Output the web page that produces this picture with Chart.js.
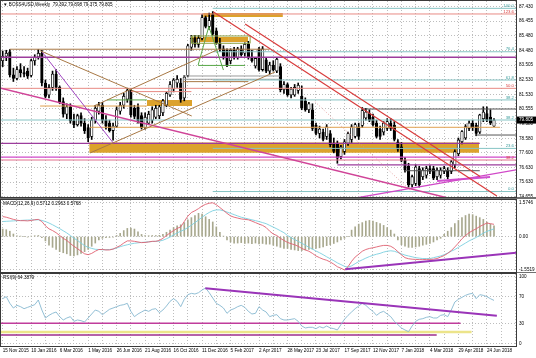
<!DOCTYPE html>
<html>
<head>
<meta charset="utf-8">
<script src="https://cdn.jsdelivr.net/npm/chart.js@4.4.0/dist/chart.umd.min.js"></script>
<style>
  html, body { margin: 0; padding: 0; background: #fff; }
  #wrap { position: relative; width: 536px; height: 358px; overflow: hidden; }
  .pane { position: absolute; left: 0; width: 536px; }
</style>
</head>
<body>
<div id="wrap">
  <div class="pane" style="top:0;height:199px"><canvas id="main"></canvas></div>
  <div class="pane" style="top:199px;height:74px"><canvas id="macd"></canvas></div>
  <div class="pane" style="top:273px;height:85px"><canvas id="rsi"></canvas></div>
</div>
<script>
// ---- weekly candles, one per week starting 15 Nov 2015 ----
const opens = [83.8,84.1,84.4,82.85,82.6,83.2,83.0,83.1,82.8,83.8,
  84.05,84.3,82.3,81.5,82.0,82.9,82.0,81.05,80.2,80.7,
  79.75,79.5,80.1,79.6,79.3,78.7,79.8,80.4,80.8,79.8,
  79.6,79.1,79.4,80.4,80.8,81.2,81.8,80.6,80.7,80.1,
  79.3,79.6,79.8,80.0,80.1,80.3,80.8,81.5,81.9,82.3,
  82.3,81.3,82.8,84.7,85.3,84.9,85.3,86.7,86.1,86.9,
  85.8,85.0,84.6,84.5,83.8,84.5,84.0,84.6,84.3,84.9,
  84.0,83.45,84.6,83.2,83.85,83.1,83.5,83.1,83.4,81.85,
  82.2,81.5,81.5,81.8,81.4,81.1,80.5,80.5,79.45,78.9,
  79.0,78.7,78.9,78.2,78.2,77.35,77.7,78.25,78.5,78.7,
  79.35,79.45,79.95,80.25,80.0,79.6,79.2,79.0,79.25,79.6,
  79.45,78.35,78.0,77.1,76.7,75.45,75.55,76.55,76.0,76.1,
  76.55,76.55,76.0,76.1,76.35,76.45,76.35,76.8,77.55,78.35,
  78.6,79.25,79.6,79.45,79.0,79.9,80.25,80.0,79.392];
const highs = [84.45,84.5,84.55,83.3,83.4,83.6,83.4,83.3,83.9,84.2,
  84.55,84.5,82.5,82.2,83.1,83.2,82.1,81.3,80.9,80.9,
  80.2,80.2,80.3,79.9,79.5,80.0,80.8,81.0,81.0,80.1,
  79.8,79.6,80.7,81.0,81.6,81.95,81.9,80.8,80.9,80.3,
  80.3,80.4,80.7,80.8,80.8,81.2,81.7,82.4,82.6,82.8,
  82.6,82.8,84.9,85.5,85.5,85.5,86.9,86.8,87.0,87.1,
  86.0,85.3,84.8,84.6,84.6,84.7,84.7,84.8,85.0,85.1,
  84.5,84.0,84.7,84.75,84.0,83.7,83.8,84.0,83.6,82.4,
  82.3,82.0,82.2,82.3,82.1,81.3,81.0,80.9,79.6,79.4,
  79.2,79.5,79.1,78.6,78.4,78.1,78.5,79.0,79.5,79.6,
  79.6,80.65,80.6,80.5,80.2,79.8,79.4,79.7,79.9,79.9,
  79.7,78.5,78.3,77.3,76.9,76.1,76.8,76.7,76.6,76.7,
  76.75,76.7,76.6,76.6,76.7,76.6,77.1,77.8,78.6,79.1,
  79.5,79.75,79.8,79.6,80.2,80.7,80.7,80.5,79.898];
const lows = [83.4,83.8,82.7,82.4,82.5,82.7,82.7,82.6,82.7,83.5,
  83.9,82.1,81.3,81.3,81.8,81.8,80.9,80.0,79.9,79.6,
  79.3,79.4,79.4,78.9,78.35,78.5,79.6,80.2,79.6,79.2,
  79.0,78.45,79.3,80.2,80.6,81.0,80.0,79.9,79.6,79.2,
  79.2,79.5,79.6,79.9,79.9,80.1,80.7,81.4,81.7,82.0,
  81.0,81.1,82.7,84.5,84.7,84.7,85.2,86.0,85.9,85.5,
  84.9,84.4,83.9,83.4,83.6,83.9,83.9,84.1,84.1,83.9,
  83.7,83.3,83.1,83.1,83.0,82.9,83.1,83.0,81.7,81.6,
  81.4,81.3,81.4,81.6,80.5,80.4,80.3,79.1,78.8,78.6,
  78.4,78.5,78.0,77.6,76.9,77.2,77.5,78.1,78.3,78.6,
  78.5,79.3,79.8,79.7,79.4,78.6,78.5,78.8,79.1,79.1,
  78.4,77.7,77.0,76.3,75.3,75.3,75.4,75.3,75.8,75.9,
  76.2,75.8,75.8,75.9,76.2,75.85,76.2,76.6,77.4,78.2,
  78.5,79.1,79.1,78.75,78.9,79.7,79.7,79.5,79.375];
const closes = [84.1,84.3,82.85,82.6,83.2,83.0,82.9,82.75,83.8,84.05,
  84.3,82.3,81.4,82.0,82.9,82.0,81.05,80.2,80.7,79.75,
  79.5,80.1,79.6,79.1,78.6,79.8,80.6,80.8,79.8,79.4,
  79.1,79.4,80.5,80.8,81.4,81.8,80.15,80.05,79.7,79.3,
  80.0,80.2,80.5,80.6,80.7,81.1,81.6,82.2,82.5,82.55,
  81.2,82.7,84.8,85.3,84.9,85.3,86.7,86.1,86.5,85.6,
  85.0,84.6,84.1,83.5,84.5,84.0,84.6,84.2,84.9,84.0,
  83.8,83.95,83.2,84.6,83.1,83.5,83.2,83.9,81.85,82.2,
  81.5,81.9,82.0,82.15,80.6,80.5,80.9,79.25,78.9,79.2,
  78.5,79.35,78.15,77.7,77.25,78.0,78.35,78.9,79.35,79.5,
  78.7,80.45,80.35,79.8,79.5,78.7,78.7,79.6,79.7,79.25,
  78.5,77.85,77.1,76.45,75.45,76.0,76.65,75.45,76.45,76.55,
  76.35,75.9,76.45,76.45,76.55,76.0,77.0,77.68,78.47,79.03,
  79.36,79.6,79.3,78.9,80.15,80.35,79.8,79.6,79.805];

// ---- MACD(12,26,9) ----
const macdLine = [0.93,0.9,0.85,0.8,0.76,0.74,0.74,0.73,0.75,0.78,
  0.8,0.7,0.5,0.36,0.28,0.18,0.05,-0.08,-0.18,-0.32,
  -0.45,-0.56,-0.68,-0.8,-0.84,-0.78,-0.68,-0.6,-0.6,-0.62,
  -0.62,-0.58,-0.5,-0.42,-0.3,-0.2,-0.2,-0.22,-0.25,-0.28,
  -0.27,-0.25,-0.22,-0.22,-0.18,-0.08,0.05,0.17,0.28,0.38,
  0.45,0.7,0.95,1.12,1.2,1.3,1.42,1.5,1.55,1.57,
  1.48,1.35,1.22,1.08,0.96,0.9,0.86,0.82,0.8,0.78,
  0.72,0.65,0.58,0.52,0.42,0.25,0.12,0.05,-0.08,-0.18,
  -0.27,-0.33,-0.38,-0.45,-0.55,-0.62,-0.68,-0.78,-0.9,-0.98,
  -1.05,-1.1,-1.18,-1.28,-1.4,-1.47,-1.55,-1.4,-1.15,-0.95,
  -0.82,-0.68,-0.6,-0.55,-0.52,-0.48,-0.44,-0.41,-0.41,-0.45,
  -0.55,-0.7,-0.85,-0.98,-1.03,-1.05,-1.06,-1.07,-1.07,-1.06,
  -1.06,-1.05,-1.02,-0.95,-0.88,-0.78,-0.65,-0.48,-0.3,-0.1,
  0.05,0.18,0.28,0.36,0.47,0.55,0.63,0.6,0.57];
const macdSignal = [0.7,0.71,0.72,0.73,0.74,0.75,0.76,0.77,0.77,0.78,
  0.78,0.75,0.7,0.63,0.55,0.46,0.37,0.27,0.17,0.05,
  -0.07,-0.18,-0.3,-0.42,-0.5,-0.55,-0.59,-0.6,-0.61,-0.61,
  -0.6,-0.58,-0.53,-0.47,-0.42,-0.38,-0.34,-0.31,-0.29,-0.27,
  -0.26,-0.24,-0.23,-0.22,-0.21,-0.17,-0.1,-0.02,0.08,0.17,
  0.25,0.32,0.42,0.53,0.65,0.77,0.9,1.02,1.12,1.2,
  1.24,1.24,1.2,1.14,1.08,1.02,0.96,0.9,0.86,0.82,
  0.78,0.74,0.7,0.65,0.6,0.52,0.44,0.36,0.27,0.18,
  0.05,-0.05,-0.14,-0.22,-0.31,-0.4,-0.5,-0.58,-0.67,-0.75,
  -0.84,-0.94,-1.03,-1.12,-1.22,-1.3,-1.38,-1.42,-1.36,-1.26,
  -1.16,-1.08,-1.0,-0.93,-0.87,-0.82,-0.78,-0.72,-0.68,-0.66,
  -0.68,-0.74,-0.8,-0.86,-0.9,-0.94,-0.98,-1.0,-1.02,-1.02,
  -1.02,-0.98,-0.94,-0.9,-0.84,-0.76,-0.68,-0.6,-0.5,-0.4,
  -0.3,-0.2,-0.12,-0.04,0.06,0.16,0.24,0.3,0.36];
const macdHist = [0.35,0.32,0.25,0.12,0.03,0.02,0.0,-0.02,0.02,0.04,
  0.05,-0.05,-0.2,-0.4,-0.5,-0.6,-0.7,-0.75,-0.8,-0.88,
  -0.9,-0.85,-0.78,-0.7,-0.6,-0.45,-0.3,-0.15,-0.08,-0.05,
  -0.04,-0.02,0.05,0.15,0.28,0.38,0.4,0.35,0.22,0.1,
  0.05,0.04,0.05,0.05,0.06,0.1,0.2,0.3,0.42,0.5,
  0.55,0.65,0.78,0.88,0.98,1.08,1.05,0.92,0.8,0.68,
  0.45,0.2,0.02,-0.15,-0.25,-0.3,-0.3,-0.28,-0.32,-0.3,
  -0.33,-0.3,-0.34,-0.32,-0.35,-0.35,-0.4,-0.45,-0.5,-0.55,
  -0.55,-0.6,-0.62,-0.65,-0.65,-0.62,-0.6,-0.58,-0.55,-0.52,
  -0.48,-0.42,-0.38,-0.32,-0.25,-0.15,-0.08,0.0,0.3,0.45,
  0.58,0.65,0.72,0.75,0.72,0.66,0.6,0.52,0.42,0.3,
  0.12,-0.15,-0.38,-0.45,-0.5,-0.5,-0.48,-0.45,-0.4,-0.36,
  -0.32,-0.25,-0.15,-0.08,0.1,0.25,0.42,0.6,0.75,0.88,
  0.98,1.05,1.02,0.95,0.88,0.8,0.68,0.58,0.5];

// ---- RSI ----
const rsiLine = [67,70,60,53,57,55,52,54,56,58,
  65,50,38,42,45,47,40,35,38,40,
  33,35,34,32,38,44,50,48,43,47,
  51,53,55,57,58,60,48,40,44,47,
  50,48,51,52,46,50,56,63,67,63,
  55,66,73,75,74,76,80,83,76,68,
  60,57,53,45,50,52,55,57,54,48,
  44,45,55,50,47,40,42,43,37,35,
  35,36,37,33,26,23,24,24,22,25,
  23,26,23,22,20,28,36,42,47,52,
  56,60,57,52,48,42,46,48,44,40,
  33,28,23,20,17.5,26,33,36,37,39,
  40,38,38,42,43,40,50,62,66,69,
  72,74,75,67,73,72,70,67,64.4];

// ---- axis labels ----
const dateLabels = ['15 Nov 2015','10 Jan 2016','6 Mar 2016','1 May 2016','26 Jun 2016','21 Aug 2016',
  '16 Oct 2016','11 Dec 2016','5 Feb 2017','2 Apr 2017','28 May 2017','23 Jul 2017','17 Sep 2017',
  '12 Nov 2017','7 Jan 2018','4 Mar 2018','29 Apr 2018','24 Jun 2018'];
const priceTicks = [87.430,86.455,85.480,84.480,83.505,82.530,81.530,80.555,79.580,78.580,77.600,76.630,75.630,74.655];
const macdTicks = [1.5746, 0, -1.5519];
const rsiTicks = [100, 70, 30, 0];

// ---- drawn objects (week, price) ----
const mainLevels = [
  [86.94,-1,145],[84.57,2,75],[84.03,-1,145],[81.94,-1,145],
  [80.55,101,145],[79.81,-1,145],[79.32,24.5,139.7],[78.80,132.7,145],
  [78.24,-1,134],[77.32,-1,145],[77.12,-1,145],[76.79,94,145],
  [76.40,113,134],[87.32,59,145],[84.40,59,145],[82.50,59,145],
  [81.16,59,145],[77.90,59,145],[75.00,59,145],[81.72,36,53],
  [82.77,50.7,77.9],[82.55,50.7,77.9],[82.39,50.7,69],[80.75,10.5,40.5],
  [81.16,29.3,40.5],[83.48,54.9,68.1]];
const mainLevelStyle = ['salmon','brown','purple','salmon','dark','teal','orange','dark',
  'purple','magenta','pink','purple','dark','teal','teal','teal','teal','teal','teal','salmon',
  'gray','gray','brown','orange','green','green'];
const mainTrends = [
  [10.5,84.47,53.1,80.08],[25.6,80.75,60.2,84.52],[24.5,77.59,76.5,83.04],
  [11,84.40,31.1,78.25],[-0.76,81.96,126.2,74.5],[59.1,87.09,138.8,74.70],
  [68.1,86.27,134.1,76.01],[87.7,81.04,115.3,74.9],[97.6,74.5,144.2,76.46],
  [122,75.71,136.9,75.98]];
const mainTrendStyle = ['brown','brown','brown','violet','rose','red','red','pinkDot','magenta','magentaThick'];
const mainPaths = [
  [[53.1,84.97],[69.5,84.97],[69.5,85.46],[53.1,85.46],[53.1,84.97]],
  [[54.9,83.51],[57.9,86.1],[62,83.17]]];
const mainPathStyle = ['olive','green'];
const mainZones = [[24.3,133.8,77.6,78.3],[56.3,78.7,86.74,87.0],[53.2,68.9,85.05,85.4],[40.5,53.2,80.76,81.16]];
const fibLevels = [87.32,86.94,84.40,82.50,81.94,81.16,79.81,77.90,77.12,75.00];
const fibTexts = ['100.0','123.6','76.4','61.8','50.0','38.2','38.2','23.6','38.2','0.0'];
const fibRed = [false,true,false,false,true,false,false,false,true,false];

const macdTrend = [96.2,-1.52,144.4,-0.75];
const rsiTrend = [56.9,82.8,138.8,41.4];
const rsiLevels = [[30,-1,128.6],[17,-1,131.7],[12.5,-1,121.9]];
const rsiLevelStyle = ['rsiMagenta','rsiYellow','rsiPurple'];

// ---- styles ----
const STYLES = {
  salmon: ['#e88a84', 1], brown: ['#a87844', 1], purple: ['#9c3c9c', 1.3], magenta: ['#d048c8', 1.3],
  pink: ['#e0708c', 1], teal: ['#86c4c4', 1], dark: ['#555555', 1], orange: ['#e0a050', 1],
  gray: ['#9a9a9a', 1], green: ['#58a848', 1], olive: ['#8aa040', 1], violet: ['#a044c0', 1],
  rose: ['#d04498', 1.5], red: ['#d83c3c', 1.2], pinkDot: ['#e09090', 0.8, [1, 2]],
  magentaThick: ['#d050d0', 2], rsiMagenta: ['#c03c9c', 1.6], rsiYellow: ['#ece48a', 2.5],
  rsiPurple: ['#9c2c8c', 1.6], trend: ['#9a34b8', 2]
};
const ZONE_COLOR = '#dca22c';
const GRID = '#bdbdbd';
const FONT = {family: "'Liberation Sans', Arial, sans-serif", size: 4.6};
const W_MIN = -0.48, W_MAX = 144.18;

const weeks = closes.map((_, i) => i);
const pt = (x, y) => ({x, y});

function pathSet(points, styleName, order) {
  const [color, width, dash] = STYLES[styleName];
  return {type: 'line', data: points.map(p => pt(p[0], p[1])), borderColor: color, borderWidth: width,
    borderDash: dash || [], pointRadius: 0, fill: false, tension: 0, order: order || 1};
}

function xAxis(showLabels) {
  return {
    type: 'linear', min: W_MIN, max: W_MAX, offset: false,
    afterBuildTicks: s => { const t = []; for (let w = 0; w <= 144; w += 4) t.push({value: w}); s.ticks = t; },
    afterFit: s => { s.height = showLabels ? 12 : 0; s.paddingLeft = 0; s.paddingRight = 0; },
    grid: {color: GRID, drawTicks: false, offset: false},
    border: {display: false, dash: [1, 2]},
    ticks: {display: showLabels, autoSkip: false, maxRotation: 0, minRotation: 0, align: 'start',
      padding: 1.5, font: FONT, color: '#000',
      callback: v => (v % 8 === 0 && dateLabels[v / 8]) || ''}
  };
}

function yAxis(min, max, values, fmt) {
  return {
    position: 'right', min, max,
    afterBuildTicks: s => { s.ticks = values.map(v => ({value: v})); },
    afterFit: s => { s.width = 20; s.paddingTop = 0; s.paddingBottom = 0; },
    grid: {color: GRID, drawTicks: false},
    border: {display: false, dash: [1, 2]},
    ticks: {padding: 3, autoSkip: false, font: FONT, color: '#000', callback: fmt}
  };
}

// frame + title of each pane
const frame = {
  id: 'frame',
  afterDraw(chart, args, opts) {
    const {ctx, chartArea: a} = chart;
    ctx.save();
    if (opts.sep) {
      ctx.fillStyle = '#707070';
      ctx.fillRect(0, a.bottom, chart.width, chart.height - a.bottom);
    }
    ctx.strokeStyle = '#3a3a3a';
    ctx.lineWidth = 1;
    ctx.strokeRect(a.left - 0.5, a.top - 0.5, a.right - a.left + 1, a.bottom - a.top + 1);
    ctx.font = "4.6px 'Liberation Sans', Arial, sans-serif";
    ctx.fillStyle = '#000';
    ctx.textBaseline = 'middle';
    ctx.fillText(opts.title, a.left + 2, a.top + 4);
    ctx.restore();
  }
};

// fibo labels and last price box
const mainExtras = {
  id: 'mainExtras',
  afterDraw(chart) {
    const {ctx, chartArea: a, scales: {y}} = chart;
    ctx.save();
    ctx.font = "4.3px 'Liberation Sans', Arial, sans-serif";
    ctx.textAlign = 'right';
    ctx.textBaseline = 'bottom';
    fibLevels.forEach((p, i) => {
      ctx.fillStyle = fibRed[i] ? '#d84040' : '#3c9c9c';
      ctx.fillText(fibTexts[i], a.right - 2, y.getPixelForValue(p) - 0.3);
    });
    const last = closes[closes.length - 1];
    const py = y.getPixelForValue(last);
    ctx.fillStyle = '#000';
    ctx.fillRect(a.right + 1, py - 3.5, 19, 7);
    ctx.fillStyle = '#fff';
    ctx.textAlign = 'left';
    ctx.textBaseline = 'middle';
    ctx.font = "4.6px 'Liberation Sans', Arial, sans-serif";
    ctx.fillText(last.toFixed(3), a.right + 3, py);
    ctx.restore();
  }
};

const baseOptions = (padding) => ({
  responsive: true, maintainAspectRatio: false, animation: false, events: [],
  layout: {padding},
  plugins: {legend: {display: false}, tooltip: {enabled: false}}
});

// ---- main price pane ----
const mainSets = [];
mainZones.forEach(z => mainSets.push({
  type: 'line', data: [pt(z[0], z[3]), pt(z[1], z[3])], borderWidth: 0, pointRadius: 0,
  fill: {value: z[2]}, backgroundColor: ZONE_COLOR, order: 10
}));
mainSets.push({
  type: 'bar', data: weeks.map(i => ({x: i, y: [lows[i], highs[i]]})),
  backgroundColor: '#000', barThickness: 1, grouped: false, order: 5
});
mainSets.push({
  type: 'bar', data: weeks.map(i => ({x: i, y: [opens[i], closes[i]]})),
  backgroundColor: weeks.map(i => closes[i] >= opens[i] ? '#ffffff' : '#000000'),
  borderColor: '#000', borderWidth: 0.8, borderSkipped: false, barThickness: 2.6,
  minBarLength: 0.8, grouped: false, order: 4
});
mainLevels.forEach((l, i) => mainSets.push(pathSet([[l[1], l[0]], [l[2], l[0]]], mainLevelStyle[i], 2)));
mainTrends.forEach((t, i) => mainSets.push(pathSet([[t[0], t[1]], [t[2], t[3]]], mainTrendStyle[i], 1)));
mainPaths.forEach((p, i) => mainSets.push(pathSet(p, mainPathStyle[i], 1)));

const mainOpts = baseOptions({left: 1, right: 0, top: 1, bottom: 2});
mainOpts.plugins.frame = {title: '\u25BC BOSS4USD,Weekly  79.392 79.898 79.375 79.805', sep: true};
mainOpts.scales = {x: xAxis(false), y: yAxis(74.632, 87.813, priceTicks, v => v.toFixed(3))};
new Chart(document.getElementById('main'), {
  type: 'bar', data: {datasets: mainSets}, options: mainOpts, plugins: [frame, mainExtras]
});

// ---- MACD pane ----
const macdSets = [
  {type: 'bar', data: weeks.map(i => pt(i, macdHist[i])), backgroundColor: '#a8a88e',
    barThickness: 1, grouped: false, order: 5},
  {type: 'line', data: weeks.map(i => pt(i, macdSignal[i])), borderColor: '#7cd0e0', borderWidth: 0.9,
    pointRadius: 0, fill: false, tension: 0, order: 3},
  {type: 'line', data: weeks.map(i => pt(i, macdLine[i])), borderColor: '#e06070', borderWidth: 0.9,
    pointRadius: 0, fill: false, tension: 0, order: 2},
  pathSet([[macdTrend[0], macdTrend[1]], [macdTrend[2], macdTrend[3]]], 'trend', 1)
];
const macdOpts = baseOptions({left: 1, right: 0, top: 1, bottom: 1});
macdOpts.plugins.frame = {title: 'MACD(12,26,9) 0.5712 0.2963 0.5768', sep: true};
macdOpts.scales = {x: xAxis(false), y: yAxis(-1.645, 1.70, macdTicks, v => v === 0 ? '0.00' : v.toFixed(4))};
new Chart(document.getElementById('macd'), {
  type: 'bar', data: {datasets: macdSets}, options: macdOpts, plugins: [frame]
});

// ---- RSI pane ----
const rsiSets = [];
rsiLevels.forEach((l, i) => rsiSets.push(pathSet([[l[1], l[0]], [l[2], l[0]]], rsiLevelStyle[i], 4)));
rsiSets.push({type: 'line', data: weeks.map(i => pt(i, rsiLine[i])), borderColor: '#86b8d0', borderWidth: 0.9,
  pointRadius: 0, fill: false, tension: 0, order: 2});
rsiSets.push(pathSet([[rsiTrend[0], rsiTrend[1]], [rsiTrend[2], rsiTrend[3]]], 'trend', 1));
const rsiOpts = baseOptions({left: 1, right: 0, top: 1, bottom: 0});
rsiOpts.plugins.frame = {title: 'RSI(9) 64.3879', sep: false};
rsiOpts.scales = {x: xAxis(true), y: yAxis(-4.05, 104.05, rsiTicks, v => String(v))};
new Chart(document.getElementById('rsi'), {
  type: 'line', data: {datasets: rsiSets}, options: rsiOpts, plugins: [frame]
});
</script>
</body>
</html>
